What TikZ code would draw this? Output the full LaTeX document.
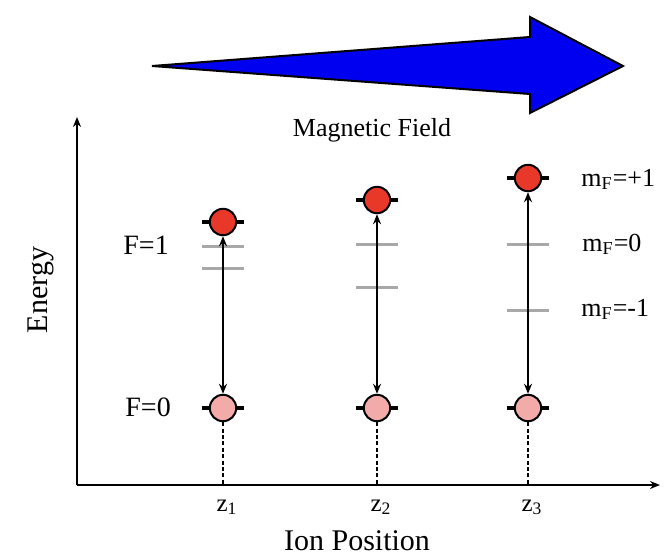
\documentclass[tikz,border=0pt]{standalone}
\usepackage{fontspec}
\setmainfont{Liberation Serif}
\usetikzlibrary{positioning,arrows.meta}
\definecolor{fieldblue}{HTML}{0000F0}
\definecolor{upred}{HTML}{E8382A}
\definecolor{lopink}{HTML}{F2ABA9}
\definecolor{levelgray}{HTML}{A8A8A8}

\begin{document}
\begin{tikzpicture}[
    x=0.5pt, y=-0.5pt,
    every node/.style={font=\fontsize{14}{16}\selectfont, inner sep=0pt},
    stateNode/.style={circle, draw=black, line width=1pt, inner sep=0pt, minimum size=13.2pt},
    tickLine/.style={line width=1.8pt},
    levelLine/.style={line width=1.5pt, draw=levelgray},
    axisLine/.style={line width=1.1pt, -{Stealth[length=5pt,width=4pt]}},
    transLine/.style={line width=1.1pt, {Stealth[length=5pt,width=4pt]}-{Stealth[length=5pt,width=4pt]}},
    guideLine/.style={line width=1pt, dash pattern=on 2pt off 1.2pt}
]
    \useasboundingbox (0,0) rectangle (672,556);

    % Pfeil des Magnetfelds
    \draw[fill=fieldblue, line width=1pt, line join=miter]
        (152,66) -- (530,37) -- (530,17) -- (623,66) -- (530,113) -- (530,94) -- cycle;
    \node[anchor=base, font=\fontsize{13}{15}\selectfont] (field) at (372,136) {Magnetic Field};

    % Achsen
    \coordinate (origin) at (77,485);
    \coordinate (etop) at (77,117);
    \coordinate (zend) at (660,485);
    \draw[axisLine] (origin) -- (etop);
    \draw[axisLine] (origin) -- (zend);
    \node[rotate=90, font=\fontsize{15}{17}\selectfont] (energy) at (41,290) {Energy};
    \node[anchor=base, font=\fontsize{15}{17}\selectfont] (ionpos) at (357,550) {Ion Position};

    % Hyperfeinniveaus
    \node[anchor=base west] (fone) at (123,254) {F=1};
    \node[anchor=base west] (fzero) at (125,416) {F=0};

    % Ionen: x / mF=+1 / mF=0 / mF=-1
    \foreach \i/\x/\yu/\yz/\ym in {1/223/222/246/268, 2/377/200/244/287, 3/528/178/244/310}{
        \draw[levelLine] (\x-21,\yz) -- (\x+21,\yz);
        \draw[levelLine] (\x-21,\ym) -- (\x+21,\ym);
        \draw[tickLine] (\x-21,\yu) -- (\x+21,\yu);
        \draw[tickLine] (\x-21,408) -- (\x+21,408);
        \node[stateNode, fill=upred] (up\i) at (\x,\yu) {};
        \node[stateNode, fill=lopink] (lo\i) at (\x,408) {};
        \coordinate (foot\i) at (\x,485);
        \draw[transLine] (lo\i) -- (up\i);
        \draw[guideLine] (lo\i) -- (foot\i);
        \node[anchor=base, font=\fontsize{12.5}{14}\selectfont] (z\i) at (\x+4,511) {z\textsubscript{\i}};
    }

    % Zeeman-Beschriftung
    \node[anchor=base west, font=\fontsize{13}{15}\selectfont] (mplus) at (581,186) {m\textsubscript{F}=+1};
    \node[anchor=base west, font=\fontsize{13}{15}\selectfont] (mzero) at (582,251) {m\textsubscript{F}=0};
    \node[anchor=base west, font=\fontsize{13}{15}\selectfont] (mminus) at (581,316) {m\textsubscript{F}=-1};
\end{tikzpicture}
\end{document}
